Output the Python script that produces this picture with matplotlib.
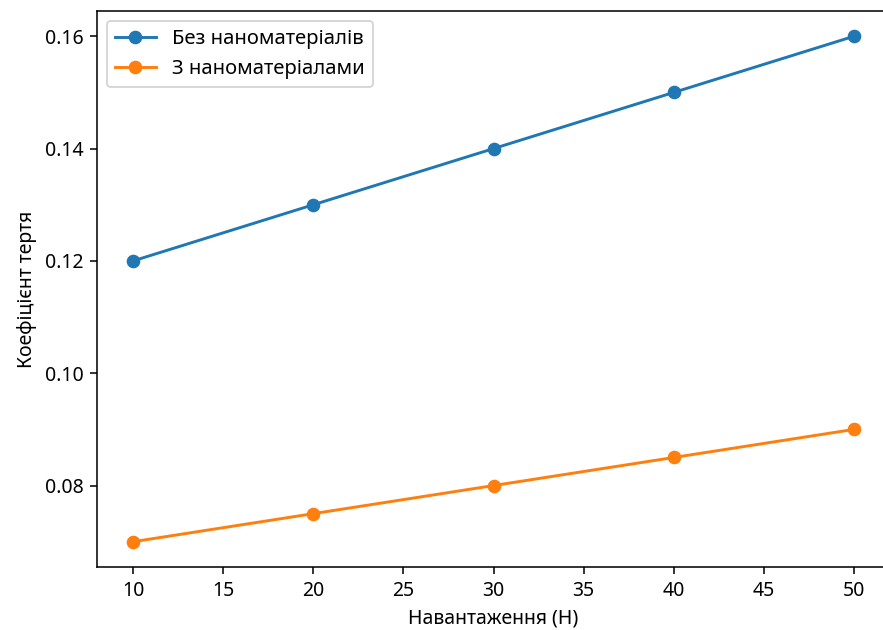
import matplotlib
matplotlib.use("Agg")
import matplotlib.pyplot as plt

plt.rcParams['font.family'] = ['Noto Sans', 'DejaVu Sans']

# data
load = [10, 20, 30, 40, 50]
without_nano = [0.12, 0.13, 0.14, 0.15, 0.16]
with_nano = [0.07, 0.075, 0.08, 0.085, 0.09]

# reference looks like a default figure scaled up ~1.4x
DPI = 140
fig = plt.figure(figsize=(883 / DPI, 630 / DPI), dpi=DPI)
ax = fig.add_axes([97 / 883, 1 - 567 / 630, 793 / 883, (567 - 11) / 630])

ax.plot(load, without_nano, marker='o', label='Без наноматеріалів')
ax.plot(load, with_nano, marker='o', label='З наноматеріалами')

ax.set_xlabel('Навантаження (Н)')
ax.set_ylabel('Коефіцієнт тертя')
ax.legend(loc='upper left', fontsize=10.4)

fig.savefig('out.png', dpi=DPI)
